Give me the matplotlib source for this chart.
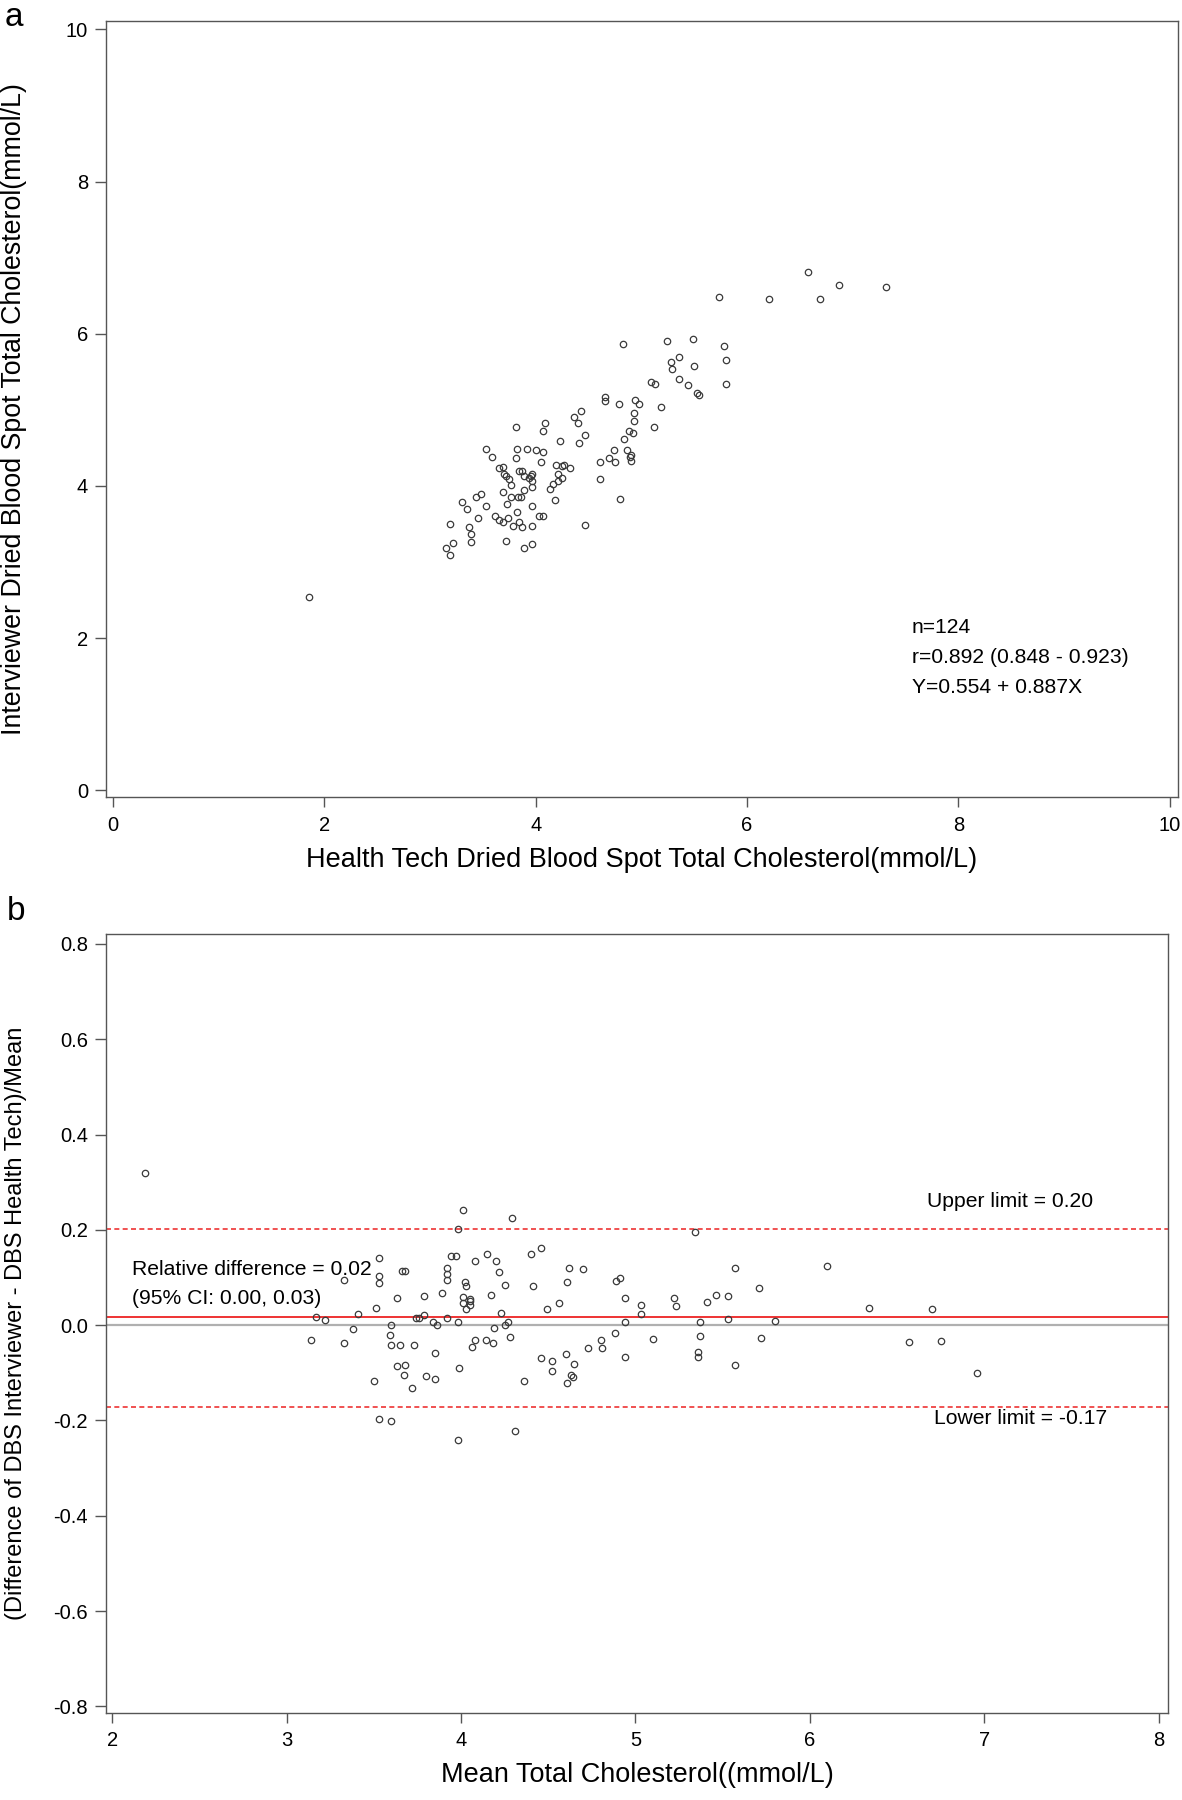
import numpy as np
import matplotlib
matplotlib.use("Agg")
import matplotlib.pyplot as plt

plt.rcParams["font.family"] = ["Liberation Sans", "DejaVu Sans"]

# panel a: health tech DBS vs interviewer DBS (mmol/L)
a_x = [1.855, 3.15, 3.19, 3.22, 3.19, 3.30, 3.35, 3.37, 3.39, 3.39, 3.45, 3.44, 3.48, 3.53, 3.53,
       3.59, 3.62, 3.65, 3.65, 3.69, 3.69, 3.69, 3.70, 3.72, 3.72, 3.73, 3.74, 3.75, 3.77, 3.77,
       3.79, 3.81, 3.81, 3.82, 3.82, 3.84, 3.83, 3.84, 3.87, 3.87, 3.86, 3.89, 3.89, 3.89, 3.92,
       3.94, 3.96, 3.97, 3.97, 3.97, 3.97, 3.97, 3.97, 4.00, 4.03, 4.05, 4.07, 4.07, 4.07, 4.09,
       4.14, 4.16, 4.18, 4.19, 4.21, 4.21, 4.23, 4.25, 4.25, 4.27, 4.33, 4.36, 4.40, 4.41, 4.43,
       4.47, 4.47, 4.61, 4.61, 4.66, 4.66, 4.69, 4.74, 4.75, 4.79, 4.80, 4.83, 4.84, 4.86, 4.88,
       4.89, 4.90, 4.90, 4.92, 4.93, 4.93, 4.94, 4.98, 5.09, 5.12, 5.13, 5.19, 5.24, 5.28, 5.29,
       5.36, 5.36, 5.44, 5.49, 5.50, 5.53, 5.55, 5.74, 5.78, 5.80, 5.80, 6.21, 6.58, 6.69, 6.87,
       7.32]
a_y = [2.54, 3.19, 3.09, 3.25, 3.50, 3.79, 3.70, 3.46, 3.37, 3.26, 3.58, 3.85, 3.89, 3.73, 4.49,
       4.38, 3.60, 3.55, 4.23, 4.25, 3.92, 3.53, 4.15, 4.13, 3.28, 3.76, 3.58, 4.09, 4.01, 3.85,
       3.47, 4.77, 4.37, 4.48, 3.66, 4.19, 3.86, 3.53, 3.46, 4.19, 3.86, 4.13, 3.94, 3.19, 4.48,
       4.11, 4.13, 3.98, 3.73, 3.47, 3.23, 4.16, 4.06, 4.47, 3.60, 4.31, 4.44, 3.61, 4.72, 4.83,
       3.96, 4.02, 3.81, 4.28, 4.16, 4.06, 4.59, 4.10, 4.26, 4.28, 4.24, 4.90, 4.83, 4.57, 4.98,
       4.67, 3.49, 4.09, 4.31, 5.17, 5.11, 4.37, 4.47, 4.31, 5.08, 3.83, 5.86, 4.62, 4.47, 4.72,
       4.38, 4.40, 4.33, 4.70, 4.85, 4.96, 5.13, 5.08, 5.36, 4.78, 5.34, 5.04, 5.90, 5.63, 5.54,
       5.70, 5.40, 5.32, 5.93, 5.57, 5.22, 5.20, 6.48, 5.84, 5.66, 5.34, 6.46, 6.81, 6.46, 6.64,
       6.61]

# panel b: Bland-Altman, mean vs relative difference
b_mean = [2.19, 3.14, 3.17, 3.22, 3.33, 3.33, 3.38, 3.41, 3.50, 3.51, 3.53, 3.53, 3.53, 3.53, 3.59,
          3.60, 3.60, 3.60, 3.63, 3.63, 3.65, 3.66, 3.68, 3.67, 3.68, 3.72, 3.73, 3.74, 3.76, 3.79,
          3.79, 3.80, 3.84, 3.85, 3.85, 3.86, 3.89, 3.92, 3.92, 3.92, 3.92, 3.94, 3.97, 3.98, 3.98,
          3.98, 3.99, 4.01, 4.01, 4.01, 4.02, 4.03, 4.03, 4.05, 4.05, 4.05, 4.06, 4.08, 4.08, 4.14,
          4.15, 4.17, 4.18, 4.19, 4.20, 4.22, 4.23, 4.25, 4.25, 4.27, 4.28, 4.29, 4.31, 4.36, 4.40,
          4.41, 4.46, 4.46, 4.49, 4.52, 4.52, 4.56, 4.60, 4.61, 4.61, 4.62, 4.63, 4.64, 4.65, 4.70,
          4.73, 4.80, 4.81, 4.88, 4.89, 4.91, 4.94, 4.94, 4.94, 5.03, 5.03, 5.10, 5.22, 5.23, 5.34,
          5.36, 5.36, 5.37, 5.37, 5.41, 5.46, 5.53, 5.53, 5.57, 5.57, 5.71, 5.72, 5.80, 6.10, 6.34,
          6.57, 6.70, 6.75, 6.96]
b_rel = [0.320, -0.031, 0.017, 0.010, -0.037, 0.094, -0.007, 0.024, -0.117, 0.037, 0.103, 0.089,
         0.140, -0.197, -0.020, 0.000, -0.042, -0.202, 0.058, -0.085, -0.041, 0.113, 0.113, -0.105,
         -0.083, -0.132, -0.041, 0.016, 0.016, 0.061, 0.022, -0.107, 0.006, -0.059, -0.113, 0.001,
         0.067, 0.119, 0.108, 0.094, 0.016, 0.146, 0.146, 0.202, 0.007, -0.241, -0.089, 0.241,
         0.060, 0.047, 0.090, 0.083, 0.034, 0.054, 0.051, 0.043, -0.045, 0.134, -0.031, -0.031,
         0.150, 0.063, -0.037, -0.005, 0.135, 0.112, 0.026, 0.084, 0.001, 0.007, -0.025, 0.224,
         -0.223, -0.117, 0.149, 0.083, -0.069, 0.162, 0.034, -0.097, -0.075, 0.046, -0.061, 0.091,
         -0.122, 0.119, -0.105, -0.109, -0.082, 0.117, -0.047, -0.031, -0.047, -0.016, 0.093, 0.100,
         0.058, 0.006, -0.067, 0.042, 0.023, -0.030, 0.057, 0.041, 0.195, -0.057, -0.067, 0.006,
         -0.023, 0.048, 0.064, 0.061, 0.014, 0.120, -0.083, 0.078, -0.026, 0.008, 0.125, 0.037,
         -0.036, 0.035, -0.034, -0.101]

mean_diff = 0.0168
upper_lim = 0.2025
lower_lim = -0.172
b_yticks = [-0.8, -0.6, -0.4, -0.2, 0.0, 0.2, 0.4, 0.6, 0.8]

MK = dict(ls="none", marker="o", ms=4.6, mfc="none", mec="#3a3a3a", mew=0.9)


def style(ax):
    for s in ax.spines.values():
        s.set_color("#555555"); s.set_linewidth(1.0)
    ax.tick_params(direction="out", width=1.0, color="#555555", labelsize=14.5)
    ax.tick_params(axis="x", length=7.4, pad=6)
    ax.tick_params(axis="y", length=7.9, pad=4.8)


fig = plt.figure(figsize=(11.82, 18), dpi=100)

# ---- panel a
ax = fig.add_axes([0.0893, 0.5572, 0.9074, 0.4311])
ax.plot(a_x, a_y, **MK)
ax.set_xlim(-0.07, 10.08); ax.set_ylim(-0.09, 10.11)
ax.set_xticks(range(0, 11, 2)); ax.set_yticks(range(0, 11, 2))
style(ax)
ax.set_xlabel("Health Tech Dried Blood Spot Total Cholesterol(mmol/L)", fontsize=19.5)
ax.xaxis.set_label_coords(0.5, -0.064)
ax.set_ylabel("Interviewer Dried Blood Spot Total Cholesterol(mmol/L)", fontsize=19.3)
ax.yaxis.set_label_coords(-0.073, 0.5)
ax.text(7.56, 2.14, "n=124", fontsize=15.2, va="center")
ax.text(7.56, 1.75, "r=0.892 (0.848 - 0.923)", fontsize=15.2, va="center")
ax.text(7.56, 1.35, "Y=0.554 + 0.887X", fontsize=15.2, va="center")
fig.text(0.004, 0.999, "a", fontsize=24, va="top")

# ---- panel b
bx = fig.add_axes([0.0893, 0.04856, 0.8992, 0.4323])
bx.axhline(0, color="#b0b0b0", lw=1.6)
bx.axhline(mean_diff, color="#ee3333", lw=1.4)
bx.axhline(upper_lim, color="#ee3333", lw=1.2, ls=(0, (3, 2)))
bx.axhline(lower_lim, color="#ee3333", lw=1.2, ls=(0, (3, 2)))
bx.plot(b_mean, b_rel, **MK)
bx.set_xlim(1.961, 8.056); bx.set_ylim(-0.813, 0.820)
bx.set_xticks(range(2, 9))
bx.set_yticks(b_yticks)
bx.set_yticklabels([f"{v:.1f}" for v in b_yticks])
style(bx)
bx.set_xlabel("Mean Total Cholesterol((mmol/L)", fontsize=19.5)
bx.xaxis.set_label_coords(0.5, -0.064)
bx.set_ylabel("(Difference of DBS Interviewer - DBS Health Tech)/Mean", fontsize=17)
bx.yaxis.set_label_coords(-0.074, 0.5)
bx.text(6.67, 0.259, "Upper limit = 0.20", fontsize=15.2, va="center")
bx.text(6.71, -0.195, "Lower limit = -0.17", fontsize=15.2, va="center")
bx.text(2.11, 0.116, "Relative difference = 0.02", fontsize=15.2, va="center")
bx.text(2.11, 0.055, "(95% CI: 0.00, 0.03)", fontsize=15.2, va="center")
fig.text(0.006, 0.502, "b", fontsize=24, va="top")

fig.savefig("out.png", dpi=100)
